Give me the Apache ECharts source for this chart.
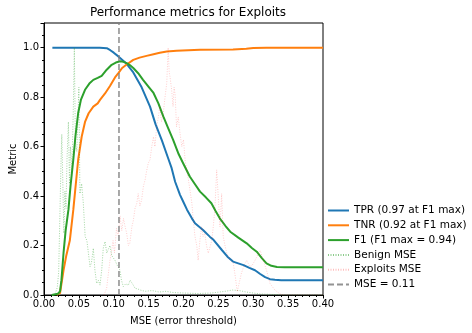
<!DOCTYPE html>
<html>
<head>
<meta charset="utf-8">
<script src="https://cdn.jsdelivr.net/npm/echarts@6/dist/echarts.min.js"></script>
<style>
    html, body {margin: 0; padding: 0; background: #fff;}
    #chart {width: 472px; height: 333px;}
</style>
</head>
<body>
<div id="chart"></div>
<script>
//曲线数据 [MSE, 值]
var tprData = [
    [0.012, 1.0], [0.02, 1.0], [0.05, 1.0], [0.08, 1.0], [0.09, 0.998], [0.095, 0.99],
    [0.1, 0.98], [0.1066, 0.965], [0.1185, 0.935], [0.128, 0.9], [0.14, 0.84],
    [0.152, 0.762], [0.16, 0.69], [0.169, 0.625], [0.178, 0.553], [0.183, 0.513],
    [0.188, 0.458], [0.195, 0.405], [0.2, 0.375], [0.205, 0.345], [0.212, 0.31],
    [0.2165, 0.29], [0.228, 0.263], [0.238, 0.235], [0.243, 0.223], [0.255, 0.182],
    [0.263, 0.155], [0.271, 0.135], [0.286, 0.121], [0.2945, 0.11], [0.3025, 0.1],
    [0.31, 0.085], [0.317, 0.072], [0.324, 0.064], [0.331, 0.062], [0.34, 0.06], [0.4, 0.06]
];
var tnrData = [
    [0.018, 0], [0.023, 0.008], [0.028, 0.1], [0.032, 0.16], [0.037, 0.22], [0.042, 0.344],
    [0.049, 0.547], [0.054, 0.64], [0.0588, 0.7], [0.064, 0.735], [0.0707, 0.762],
    [0.077, 0.775], [0.0803, 0.789], [0.0875, 0.815], [0.0946, 0.845], [0.1018, 0.88],
    [0.1066, 0.897], [0.112, 0.918], [0.1185, 0.932], [0.128, 0.951], [0.137, 0.96],
    [0.147, 0.967], [0.157, 0.974], [0.166, 0.98], [0.176, 0.985], [0.19, 0.988],
    [0.2237, 0.992], [0.271, 0.993], [0.29, 0.996], [0.3, 0.999], [0.319, 1.0], [0.4, 1.0]
];
var f1Data = [
    [0.011, 0], [0.02, 0.005], [0.023, 0.015], [0.025, 0.06], [0.028, 0.17], [0.031, 0.26],
    [0.035, 0.344], [0.038, 0.44], [0.042, 0.547], [0.045, 0.64], [0.049, 0.736],
    [0.053, 0.79], [0.0588, 0.83], [0.065, 0.855], [0.0707, 0.87], [0.077, 0.878],
    [0.0827, 0.886], [0.0899, 0.911], [0.097, 0.931], [0.103, 0.94], [0.109, 0.945],
    [0.114, 0.943], [0.1185, 0.938], [0.123, 0.93], [0.128, 0.918], [0.135, 0.897],
    [0.142, 0.87], [0.15, 0.842], [0.157, 0.817], [0.164, 0.775], [0.171, 0.722],
    [0.178, 0.675], [0.185, 0.628], [0.193, 0.57], [0.2, 0.53], [0.209, 0.479],
    [0.216, 0.45], [0.2237, 0.418], [0.232, 0.395], [0.24, 0.371], [0.246, 0.34],
    [0.252, 0.31], [0.26, 0.28], [0.267, 0.256], [0.2786, 0.232], [0.2906, 0.209],
    [0.298, 0.19], [0.305, 0.175], [0.312, 0.15], [0.319, 0.128], [0.326, 0.118],
    [0.334, 0.113], [0.345, 0.112], [0.4, 0.112]
];
//误差分布
var benignData = [
    [0.013, 0], [0.016, 0.005], [0.019, 0.03], [0.021, 0.09], [0.023, 0.35], [0.0245, 0.55],
    [0.0255, 0.65], [0.027, 0.45], [0.0285, 0.25], [0.03, 0.42], [0.0315, 0.35],
    [0.033, 0.55], [0.035, 0.7], [0.0365, 0.45], [0.038, 0.6], [0.04, 0.5], [0.042, 0.75],
    [0.0435, 1.0], [0.045, 0.62], [0.047, 0.58], [0.0485, 0.7], [0.05, 0.84], [0.0515, 0.41],
    [0.054, 0.45], [0.0564, 0.37], [0.059, 0.236], [0.0615, 0.22], [0.0636, 0.223],
    [0.066, 0.115], [0.068, 0.13], [0.0707, 0.189], [0.073, 0.1], [0.0755, 0.047],
    [0.078, 0.06], [0.0803, 0.04], [0.0827, 0.1], [0.085, 0.19], [0.0875, 0.216],
    [0.09, 0.17], [0.0922, 0.169], [0.0946, 0.2], [0.097, 0.16], [0.0994, 0.155],
    [0.1018, 0.14], [0.105, 0.12], [0.107, 0.11], [0.109, 0.1], [0.111, 0.06],
    [0.1137, 0.034], [0.117, 0.045], [0.121, 0.04], [0.1235, 0.06], [0.1257, 0.067],
    [0.128, 0.04], [0.1305, 0.027], [0.134, 0.025], [0.138, 0.02], [0.145, 0.015],
    [0.155, 0.018], [0.165, 0.012], [0.175, 0.015], [0.185, 0.01], [0.2, 0.008],
    [0.22, 0.006], [0.24, 0.008], [0.26, 0.015], [0.27, 0.02], [0.28, 0.018], [0.29, 0.012],
    [0.3, 0.008], [0.31, 0.004], [0.33, 0.002], [0.345, 0], [0.4, 0]
];
var exploitsData = [
    [0.086, 0], [0.0898, 0.027], [0.092, 0.08], [0.0946, 0.14], [0.097, 0.18], [0.099, 0.22],
    [0.101, 0.17], [0.104, 0.27], [0.1065, 0.24], [0.109, 0.32], [0.1115, 0.26], [0.114, 0.31],
    [0.116, 0.28], [0.1185, 0.25], [0.121, 0.2], [0.123, 0.209], [0.126, 0.276], [0.128, 0.3],
    [0.1305, 0.35], [0.133, 0.37], [0.135, 0.41], [0.1375, 0.36], [0.14, 0.385],
    [0.1425, 0.44], [0.145, 0.466], [0.147, 0.5], [0.1495, 0.533], [0.152, 0.547],
    [0.1545, 0.6], [0.157, 0.64], [0.159, 0.6], [0.1615, 0.68], [0.164, 0.72], [0.166, 0.762],
    [0.1685, 0.7], [0.171, 0.735], [0.1735, 0.8], [0.176, 0.857], [0.178, 1.0], [0.1795, 0.9],
    [0.1806, 0.884], [0.183, 0.83], [0.185, 0.762], [0.1865, 0.84], [0.188, 0.81], [0.19, 0.68],
    [0.1925, 0.72], [0.195, 0.655], [0.1975, 0.6], [0.2, 0.628], [0.2025, 0.54], [0.205, 0.5],
    [0.207, 0.466], [0.2095, 0.42], [0.212, 0.371], [0.214, 0.304], [0.2165, 0.236],
    [0.219, 0.2], [0.221, 0.14], [0.2235, 0.22], [0.226, 0.276], [0.228, 0.236],
    [0.2305, 0.25], [0.233, 0.2], [0.2355, 0.169], [0.238, 0.169], [0.2405, 0.22],
    [0.2427, 0.276], [0.245, 0.35], [0.2476, 0.506], [0.25, 0.5], [0.2523, 0.276],
    [0.2547, 0.41], [0.257, 0.236], [0.2595, 0.2], [0.262, 0.17], [0.264, 0.169],
    [0.267, 0.14], [0.2714, 0.128], [0.2745, 0.07], [0.277, 0.013], [0.28, 0.05],
    [0.283, 0.088], [0.287, 0.12], [0.2906, 0.14], [0.295, 0.115], [0.2985, 0.12],
    [0.3025, 0.14], [0.306, 0.16], [0.31, 0.18], [0.3145, 0.14], [0.319, 0.1], [0.324, 0.047],
    [0.331, 0.02], [0.338, 0.005], [0.345, 0], [0.4, 0]
];
//F1 最大处阈值
var mseThreshold = 0.1075;
var thresholdData = [[mseThreshold, 0], [mseThreshold, 1.1]];
var seriesNames = [
    'TPR (0.97 at F1 max)', 'TNR (0.92 at F1 max)', 'F1 (F1 max = 0.94)',
    'Benign MSE', 'Exploits MSE', 'MSE = 0.11'
];

var font = 'DejaVu Sans';
var chart = echarts.init(document.getElementById('chart'), null, {renderer: 'canvas'});

function line(name, data, color, width, type, opacity) {
    return {
        'name'      : name,
        'type'      : 'line',
        'data'      : data,
        'symbol'    : 'none',
        'silent'    : true,
        'animation' : false,
        'color'     : color,
        'lineStyle' : {color: color, width: width, type: type, opacity: opacity}
    };
}

chart.setOption({
    'backgroundColor' : '#fff',
    'title' : {
        'text'      : 'Performance metrics for Exploits',
        'left'      : 183,
        'top'       : 2,
        'textAlign' : 'center',
        'textStyle' : {fontFamily: font, fontSize: 12, fontWeight: 'normal', color: '#000'}
    },
    'grid' : {
        'left' : 44, 'right' : 149, 'top' : 23, 'bottom' : 38,
        'outerBoundsMode' : 'none',
        'containLabel'    : false,
        'show' : true, 'borderColor' : '#000', 'borderWidth' : 1
    },
    'legend' : {
        'orient'     : 'vertical',
        'left'       : 327,
        'top'        : 205,
        'padding'    : 0,
        'itemWidth'  : 21,
        'itemHeight' : 10,
        'itemGap'    : 3.8,
        'data'       : seriesNames,
        //只画线, 不画圆点
        'itemStyle'  : {opacity: 0},
        'textStyle'  : {fontFamily: font, fontSize: 10.5, color: '#000'}
    },
    'xAxis' : {
        'type'     : 'value',
        'min'      : 0,
        'max'      : 0.4,
        'interval' : 0.05,
        'name'     : 'MSE (error threshold)',
        'nameLocation'  : 'middle',
        'nameGap'       : 21,
        'nameMoveOverlap' : false,
        'nameTextStyle' : {fontFamily: font, fontSize: 10, color: '#000'},
        'axisLine'  : {lineStyle: {color: '#000', width: 1}},
        'axisTick'  : {length: 3.5, lineStyle: {color: '#000'}},
        'minorTick' : {show: true, splitNumber: 5, length: 2, lineStyle: {color: '#000'}},
        'splitLine' : {show: false},
        'axisLabel' : {
            fontFamily: font, fontSize: 10, color: '#000', margin: 4,
            formatter: function (v) { return v.toFixed(2); }
        }
    },
    'yAxis' : {
        'type'     : 'value',
        'min'      : 0,
        'max'      : 1.1,
        'interval' : 0.2,
        'name'     : 'Metric',
        'nameLocation'  : 'middle',
        'nameGap'       : 26,
        'nameMoveOverlap' : false,
        'nameTextStyle' : {fontFamily: font, fontSize: 10, color: '#000'},
        'axisLine'  : {lineStyle: {color: '#000', width: 1}},
        'axisTick'  : {length: 3.5, lineStyle: {color: '#000'}},
        'minorTick' : {show: true, splitNumber: 4, length: 2, lineStyle: {color: '#000'}},
        'splitLine' : {show: false},
        'axisLabel' : {
            fontFamily: font, fontSize: 10, color: '#000', margin: 5,
            formatter: function (v) { return v > 1.001 ? '' : v.toFixed(1); }
        }
    },
    'series' : [
        line(seriesNames[0], tprData, '#1f77b4', 2, 'solid', 1),
        line(seriesNames[1], tnrData, '#ff7f0e', 2, 'solid', 1),
        line(seriesNames[2], f1Data, '#2ca02c', 2, 'solid', 1),
        line(seriesNames[3], benignData, '#2ca02c', 0.8, [1, 1.5], 0.55),
        line(seriesNames[4], exploitsData, '#ff0000', 0.8, [1, 1.5], 0.25),
        line(seriesNames[5], thresholdData, '#808080', 1.6, [6, 3], 0.85)
    ]
});
</script>
</body>
</html>
